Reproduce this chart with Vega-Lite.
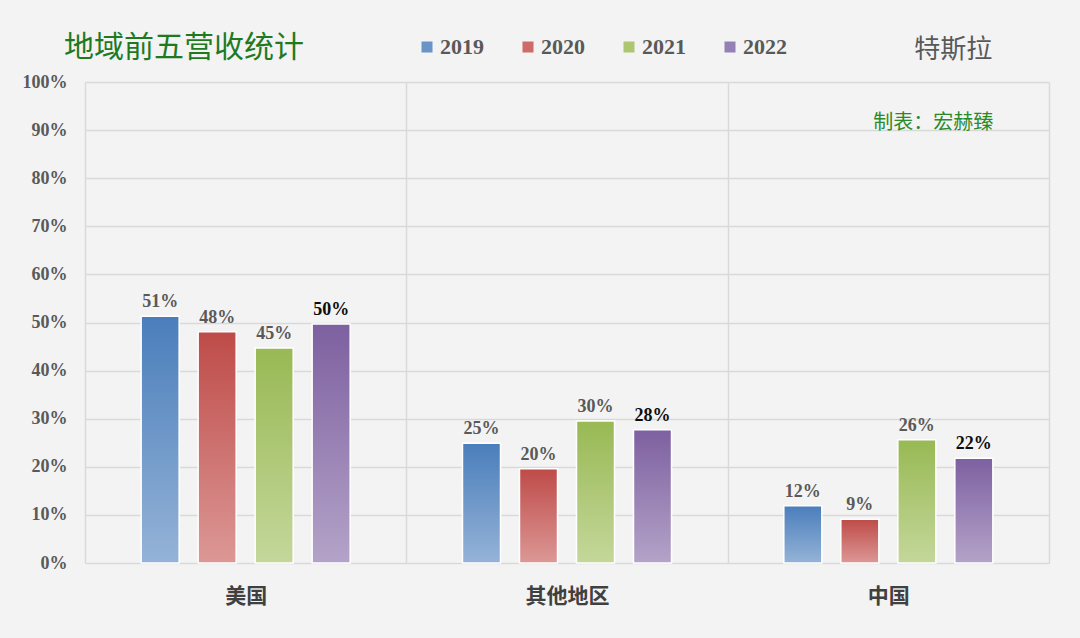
{
  "$schema": "https://vega.github.io/schema/vega-lite/v6.json",
  "width": 964,
  "height": 481,
  "autosize": {"type": "none"},
  "padding": {"left": 85, "top": 82, "right": 31, "bottom": 75},
  "background": "#f3f3f3",
  "title": {
    "text": "地域前五营收统计",
    "anchor": "start",
    "frame": "group",
    "orient": "top",
    "font": "Noto Sans CJK SC",
    "fontSize": 30,
    "fontWeight": "normal",
    "color": "#1f7a1f",
    "dx": -21,
    "dy": 49,
    "offset": 22
  },
  "data": {
    "values": [
      {"region": "美国", "year": "2019", "value": 0.513},
      {"region": "美国", "year": "2020", "value": 0.481},
      {"region": "美国", "year": "2021", "value": 0.447},
      {"region": "美国", "year": "2022", "value": 0.497},
      {"region": "其他地区", "year": "2019", "value": 0.249},
      {"region": "其他地区", "year": "2020", "value": 0.196},
      {"region": "其他地区", "year": "2021", "value": 0.295},
      {"region": "其他地区", "year": "2022", "value": 0.277},
      {"region": "中国", "year": "2019", "value": 0.119},
      {"region": "中国", "year": "2020", "value": 0.091},
      {"region": "中国", "year": "2021", "value": 0.256},
      {"region": "中国", "year": "2022", "value": 0.218}
    ]
  },
  "encoding": {
    "x": {
      "field": "region",
      "type": "nominal",
      "sort": ["美国", "其他地区", "中国"],
      "scale": {"domain": ["美国", "其他地区", "中国"], "paddingInner": 0, "paddingOuter": 0},
      "axis": {
        "title": null,
        "labelAngle": 0,
        "tickBand": "extent",
        "ticks": false,
        "domain": false,
        "grid": true,
        "gridColor": "#d9d9d9",
        "gridWidth": 1.5,
        "labelFont": "Noto Sans CJK SC",
        "labelFontWeight": "bold",
        "labelFontSize": 21,
        "labelColor": "#404040",
        "labelPadding": 22
      }
    },
    "y": {
      "field": "value",
      "type": "quantitative",
      "scale": {"domain": [0, 1], "nice": false},
      "axis": {
        "title": null,
        "values": [0, 0.1, 0.2, 0.3, 0.4, 0.5, 0.6, 0.7, 0.8, 0.9, 1],
        "format": ".0%",
        "ticks": false,
        "domain": false,
        "grid": true,
        "gridColor": "#d9d9d9",
        "gridWidth": 1.5,
        "labelFont": "Liberation Serif",
        "labelFontWeight": "bold",
        "labelFontSize": 18,
        "labelColor": "#595959",
        "labelPadding": 18
      }
    }
  },
  "layer": [
    {
      "mark": {"type": "bar", "opacity": 0},
      "encoding": {
        "xOffset": {"field": "year", "type": "nominal", "scale": {"domain": ["2019", "2020", "2021", "2022"], "paddingInner": 0.333, "paddingOuter": 0.985}},
        "color": {
          "field": "year",
          "type": "nominal",
          "scale": {"domain": ["2019", "2020", "2021", "2022"], "range": ["#6a93c8", "#cc6b68", "#adc672", "#9580b5"]},
          "legend": {
            "title": null,
            "orient": "none",
            "direction": "horizontal",
            "legendX": 331,
            "legendY": -46,
            "symbolType": "square",
            "symbolSize": 121,
            "symbolOpacity": 1,
            "symbolStrokeWidth": 0,
            "labelFont": "Liberation Serif",
            "labelFontWeight": "bold",
            "labelFontSize": 22,
            "labelColor": "#595959",
            "labelOffset": 2,
            "columnPadding": 33,
            "padding": 0
          }
        }
      }
    },
    {
      "transform": [{"filter": "datum.year === '2019'"}],
      "mark": {"type": "bar", "stroke": "white", "strokeWidth": 1.5,
        "fill": {"gradient": "linear", "x1": 0, "y1": 0, "x2": 0, "y2": 1, "stops": [{"offset": 0, "color": "#4a7ebb"}, {"offset": 1, "color": "#95b3d7"}]}},
      "encoding": {"xOffset": {"field": "year", "type": "nominal"}}
    },
    {
      "transform": [{"filter": "datum.year === '2020'"}],
      "mark": {"type": "bar", "stroke": "white", "strokeWidth": 1.5,
        "fill": {"gradient": "linear", "x1": 0, "y1": 0, "x2": 0, "y2": 1, "stops": [{"offset": 0, "color": "#be4b48"}, {"offset": 1, "color": "#dc9896"}]}},
      "encoding": {"xOffset": {"field": "year", "type": "nominal"}}
    },
    {
      "transform": [{"filter": "datum.year === '2021'"}],
      "mark": {"type": "bar", "stroke": "white", "strokeWidth": 1.5,
        "fill": {"gradient": "linear", "x1": 0, "y1": 0, "x2": 0, "y2": 1, "stops": [{"offset": 0, "color": "#98b954"}, {"offset": 1, "color": "#c4d79b"}]}},
      "encoding": {"xOffset": {"field": "year", "type": "nominal"}}
    },
    {
      "transform": [{"filter": "datum.year === '2022'"}],
      "mark": {"type": "bar", "stroke": "white", "strokeWidth": 1.5,
        "fill": {"gradient": "linear", "x1": 0, "y1": 0, "x2": 0, "y2": 1, "stops": [{"offset": 0, "color": "#7d60a0"}, {"offset": 1, "color": "#b4a3c8"}]}},
      "encoding": {"xOffset": {"field": "year", "type": "nominal"}}
    },
    {
      "mark": {"type": "text", "baseline": "alphabetic", "dy": -9, "font": "Liberation Serif", "fontWeight": "bold", "fontSize": 18},
      "encoding": {
        "xOffset": {"field": "year", "type": "nominal"},
        "text": {"field": "value", "type": "quantitative", "format": ".0%"},
        "color": {"condition": {"test": "datum.year === '2022'", "value": "#0d0d0d"}, "value": "#595959"}
      }
    },
    {
      "data": {"values": [{"label": "特斯拉", "region": "中国", "value": 1.067}]},
      "mark": {"type": "text", "font": "Noto Sans CJK SC", "fontSize": 26, "color": "#595959", "baseline": "middle", "align": "center", "dx": 65},
      "encoding": {
        "text": {"field": "label"}
      }
    },
    {
      "data": {"values": [{"label": "制表：宏赫臻", "region": "中国", "value": 0.915}]},
      "mark": {"type": "text", "font": "Noto Sans CJK SC", "fontSize": 20, "color": "#2a8a2a", "baseline": "middle", "align": "center", "dx": 45},
      "encoding": {
        "text": {"field": "label"}
      }
    }
  ],
  "config": {
    "view": {"stroke": null}
  }
}
